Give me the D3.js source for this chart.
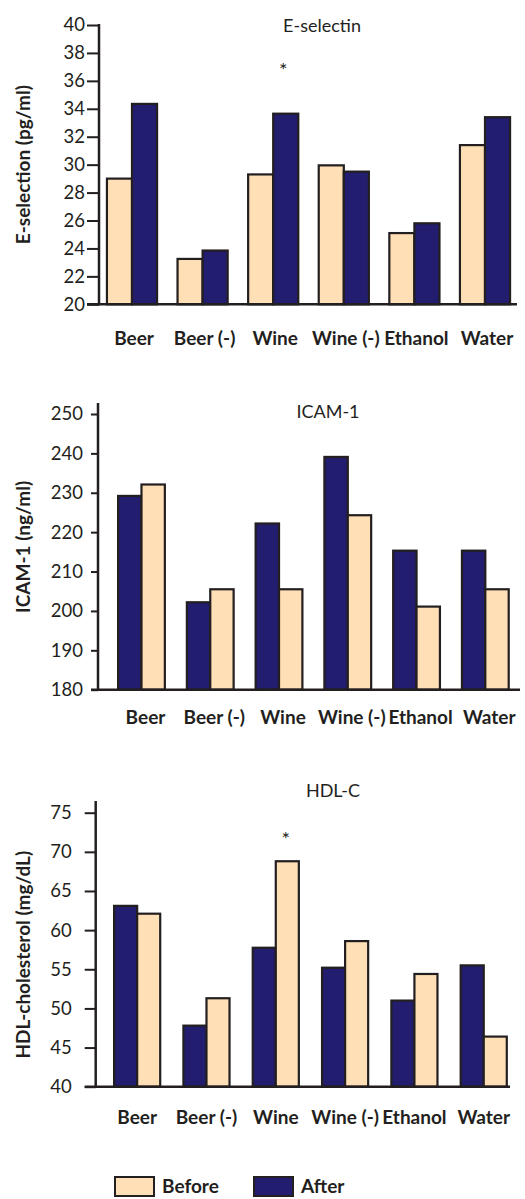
<!DOCTYPE html>
<html lang="en">
<head>
    <meta charset="UTF-8">
    <title>E-selectin, ICAM-1, HDL-C</title>
    <style>
        body { margin: 0; padding: 0; background: #fff; }
        svg { display: block; }
        text { font-family: Lato, "Open Sans", sans-serif; fill: #231f20; }
    </style>
</head>
<body>
<svg width="525" height="1199"></svg>
<script src="https://d3js.org/d3.v7.min.js"></script>
<script>
    // categories shared by all three panels
    const categories = ["Beer", "Beer (-)", "Wine", "Wine (-)", "Ethanol", "Water"];

    // E-selectin (pg/ml)
    const eselBefore = [29.0, 23.25, 29.3, 29.95, 25.1, 31.4];
    const eselAfter = [34.35, 23.85, 33.65, 29.5, 25.8, 33.4];
    const eselTicks = [20, 22, 24, 26, 28, 30, 32, 34, 36, 38, 40];

    // ICAM-1 (ng/ml)
    const icamBefore = [232.1, 205.5, 205.5, 224.3, 201.1, 205.5];
    const icamAfter = [229.2, 202.2, 222.2, 239.1, 215.3, 215.3];
    const icamTicks = [180, 190, 200, 210, 220, 230, 240, 250];

    // HDL-C (mg/dL)
    const hdlBefore = [62.1, 51.3, 68.8, 58.6, 54.4, 46.4];
    const hdlAfter = [63.1, 47.8, 57.75, 55.2, 51.0, 55.5];
    const hdlTicks = [40, 45, 50, 55, 60, 65, 70, 75];

    const colors = { Before: "#ffdfb5", After: "#221d6e" };
    const ink = "#231f20";

    const svg = d3.select("svg");

    // one panel of the figure
    function drawPanel(p) {
        const g = svg.append("g");

        const y = d3.scaleLinear().domain(p.domain).range([p.bottom, p.top]);
        const x0 = d3.scaleBand().domain(categories)
            .range(p.xRange).paddingInner(p.pad).paddingOuter(p.pad / 2);
        const x1 = d3.scaleBand().domain(p.order).range([0, x0.bandwidth()]);

        const rows = categories.map((c, i) => ({ cat: c, Before: p.before[i], After: p.after[i] }));

        // bars
        g.selectAll("g.grp")
            .data(rows)
            .join("g")
            .attr("class", "grp")
            .attr("transform", d => `translate(${x0(d.cat)},0)`)
            .selectAll("rect")
            .data(d => p.order.map(k => ({ key: k, value: d[k] })))
            .join("rect")
            .attr("x", d => x1(d.key))
            .attr("y", d => y(d.value))
            .attr("width", x1.bandwidth())
            .attr("height", d => y(p.domain[0]) - y(d.value))
            .attr("fill", d => colors[d.key])
            .attr("stroke", ink)
            .attr("stroke-width", 2.2);

        // y axis
        const yAxis = g.append("g")
            .attr("transform", `translate(${p.axisX},0)`)
            .call(d3.axisLeft(y).tickValues(p.ticks).tickSize(p.tickSize).tickPadding(p.tickPad));
        yAxis.select(".domain").remove();
        yAxis.selectAll("line").attr("stroke", ink).attr("stroke-width", 2);
        yAxis.selectAll("text").attr("font-size", 18.5).attr("fill", ink)
            .style("font-family", "Lato, sans-serif");

        g.append("line")
            .attr("x1", p.axisX).attr("x2", p.axisX)
            .attr("y1", p.axisTop).attr("y2", y(p.domain[0]) + 1)
            .attr("stroke", ink).attr("stroke-width", 2.5);

        // baseline
        g.append("line")
            .attr("x1", p.axisX - p.tickSize).attr("x2", p.baseEnd)
            .attr("y1", y(p.domain[0])).attr("y2", y(p.domain[0]))
            .attr("stroke", ink).attr("stroke-width", 2.5);

        // category labels
        const xAxis = g.append("g")
            .attr("transform", `translate(${p.labelShift},${y(p.domain[0])})`)
            .call(d3.axisBottom(x0).tickSize(0).tickPadding(p.labelPad));
        xAxis.select(".domain").remove();
        xAxis.selectAll("text").attr("font-size", 19).attr("font-weight", "bold")
            .attr("fill", ink).style("font-family", "Lato, sans-serif");

        // panel title
        g.append("text")
            .attr("x", p.titleX).attr("y", p.titleY)
            .attr("text-anchor", "middle")
            .attr("font-size", 18)
            .text(p.title);

        // y title
        g.append("text")
            .attr("transform", `translate(30,${(p.bottom + p.top) / 2 + p.yTitleShift}) rotate(-90)`)
            .attr("text-anchor", "middle")
            .attr("font-size", 19)
            .attr("font-weight", "bold")
            .text(p.yTitle);

        // significance marks
        p.stars.forEach(s => {
            g.append("text")
                .attr("x", x0(s.cat) + x0.bandwidth() / 2 + 10)
                .attr("y", y(s.at) + 10)
                .attr("text-anchor", "middle")
                .attr("font-size", 20)
                .text("*");
        });
    }

    drawPanel({
        title: "E-selectin", yTitle: "E-selection (pg/ml)",
        before: eselBefore, after: eselAfter, order: ["Before", "After"],
        domain: [20, 40], ticks: eselTicks, top: 25, bottom: 304.3, axisTop: 24,
        axisX: 99, tickSize: 12, tickPad: 2, xRange: [96.7, 520.3], pad: 0.29,
        baseEnd: 517, labelPad: 27, labelShift: 2, titleX: 322, titleY: 32, yTitleShift: 0,
        stars: [{ cat: "Wine", at: 37 }]
    });

    drawPanel({
        title: "ICAM-1", yTitle: "ICAM-1 (ng/ml)",
        before: icamBefore, after: icamAfter, order: ["After", "Before"],
        domain: [180, 250], ticks: icamTicks, top: 414, bottom: 689.7, axisTop: 403,
        axisX: 98, tickSize: 7, tickPad: 8, xRange: [107.1, 519.7], pad: 0.32,
        baseEnd: 520, labelPad: 21, labelShift: 4, titleX: 328, titleY: 418, yTitleShift: -5,
        stars: []
    });

    drawPanel({
        title: "HDL-C", yTitle: "HDL-cholesterol (mg/dL)",
        before: hdlBefore, after: hdlAfter, order: ["After", "Before"],
        domain: [40, 75], ticks: hdlTicks, top: 812.7, bottom: 1086.7, axisTop: 801,
        axisX: 95.7, tickSize: 11, tickPad: 13, xRange: [102.5, 518.4], pad: 0.335,
        baseEnd: 510, labelPad: 24, labelShift: 0, titleX: 333, titleY: 797, yTitleShift: 5,
        stars: [{ cat: "Wine", at: 72 }]
    });

    // legend
    const legendItems = ["Before", "After"];
    const legend = svg.append("g").attr("transform", "translate(115,1177)");
    const item = legend.selectAll("g")
        .data(legendItems)
        .join("g")
        .attr("transform", (d, i) => `translate(${i * 139},0)`);
    item.append("rect")
        .attr("width", 39).attr("height", 19)
        .attr("fill", d => colors[d])
        .attr("stroke", ink).attr("stroke-width", 2);
    item.append("text")
        .attr("x", 47).attr("y", 16)
        .attr("font-size", 19).attr("font-weight", "bold")
        .text(d => d);
</script>
</body>
</html>
